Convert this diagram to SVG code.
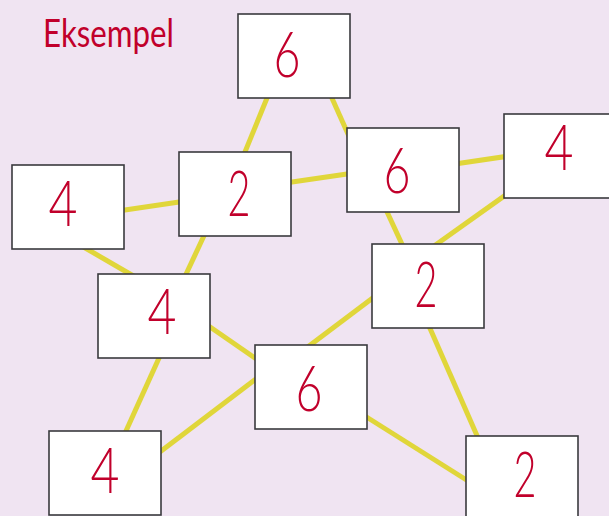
<svg xmlns="http://www.w3.org/2000/svg" width="609" height="516" viewBox="0 0 609 516">
<style>
.bg{fill:#f0e4f2}
.edge{stroke:#e0d63a;stroke-width:5;stroke-linecap:butt;fill:none}
.box{fill:#ffffff;stroke:#3a3a3e;stroke-width:1.6}
.num{font-family:Lato,"Liberation Sans",sans-serif;font-weight:300;font-size:64px;fill:#c1002b;text-anchor:middle}
.title{font-family:Lato,"Liberation Sans",sans-serif;font-weight:400;font-size:39px;fill:#c1002b}
</style>
<rect class="bg" x="0" y="0" width="609" height="516"/>
<text class="title" x="43" y="47" textLength="131" lengthAdjust="spacingAndGlyphs">Eksempel</text>
<g id="connectors">
<line class="edge" x1="271.5" y1="87" x2="240.5" y2="163"/>
<line class="edge" x1="327" y1="87" x2="352" y2="143"/>
<line class="edge" x1="280" y1="183.7" x2="359" y2="172.3"/>
<line class="edge" x1="113" y1="211.8" x2="191" y2="200.2"/>
<line class="edge" x1="76.6" y1="243" x2="140.4" y2="280"/>
<line class="edge" x1="209" y1="225" x2="181" y2="285"/>
<line class="edge" x1="200" y1="320" x2="265" y2="365"/>
<line class="edge" x1="164" y1="347" x2="121" y2="442"/>
<line class="edge" x1="265" y1="372" x2="152" y2="458"/>
<line class="edge" x1="301" y1="352" x2="382" y2="291"/>
<line class="edge" x1="357" y1="411" x2="476" y2="486"/>
<line class="edge" x1="425" y1="317" x2="482" y2="447"/>
<line class="edge" x1="382" y1="201" x2="407" y2="255"/>
<line class="edge" x1="514" y1="189" x2="427" y2="251"/>
<line class="edge" x1="448" y1="165" x2="516" y2="155"/>
</g>
<g id="n-top6"><rect class="box" x="238" y="14" width="112" height="84"/><text class="num" x="287" y="77" textLength="27" lengthAdjust="spacingAndGlyphs">6</text></g>
<g id="n-mid2"><rect class="box" x="179" y="152" width="112" height="84"/><text class="num" x="239" y="216" textLength="23" lengthAdjust="spacingAndGlyphs">2</text></g>
<g id="n-left4"><rect class="box" x="12" y="165" width="112" height="84"/><text class="num" x="63" y="226" textLength="29" lengthAdjust="spacingAndGlyphs">4</text></g>
<g id="n-right6"><rect class="box" x="347" y="128" width="112" height="84"/><text class="num" x="397" y="193" textLength="27" lengthAdjust="spacingAndGlyphs">6</text></g>
<g id="n-far4"><rect class="box" x="504" y="114" width="112" height="84"/><text class="num" x="559" y="170" textLength="29" lengthAdjust="spacingAndGlyphs">4</text></g>
<g id="n-rt2"><rect class="box" x="372" y="244" width="112" height="84"/><text class="num" x="426" y="307" textLength="23" lengthAdjust="spacingAndGlyphs">2</text></g>
<g id="n-mid4"><rect class="box" x="98" y="274" width="112" height="84"/><text class="num" x="162" y="334" textLength="29" lengthAdjust="spacingAndGlyphs">4</text></g>
<g id="n-center6"><rect class="box" x="255" y="345" width="112" height="84"/><text class="num" x="309" y="411" textLength="27" lengthAdjust="spacingAndGlyphs">6</text></g>
<g id="n-bl4"><rect class="box" x="49" y="431" width="112" height="84"/><text class="num" x="105" y="493" textLength="29" lengthAdjust="spacingAndGlyphs">4</text></g>
<g id="n-br2"><rect class="box" x="466" y="436" width="112" height="84"/><text class="num" x="525" y="497" textLength="23" lengthAdjust="spacingAndGlyphs">2</text></g>
</svg>
